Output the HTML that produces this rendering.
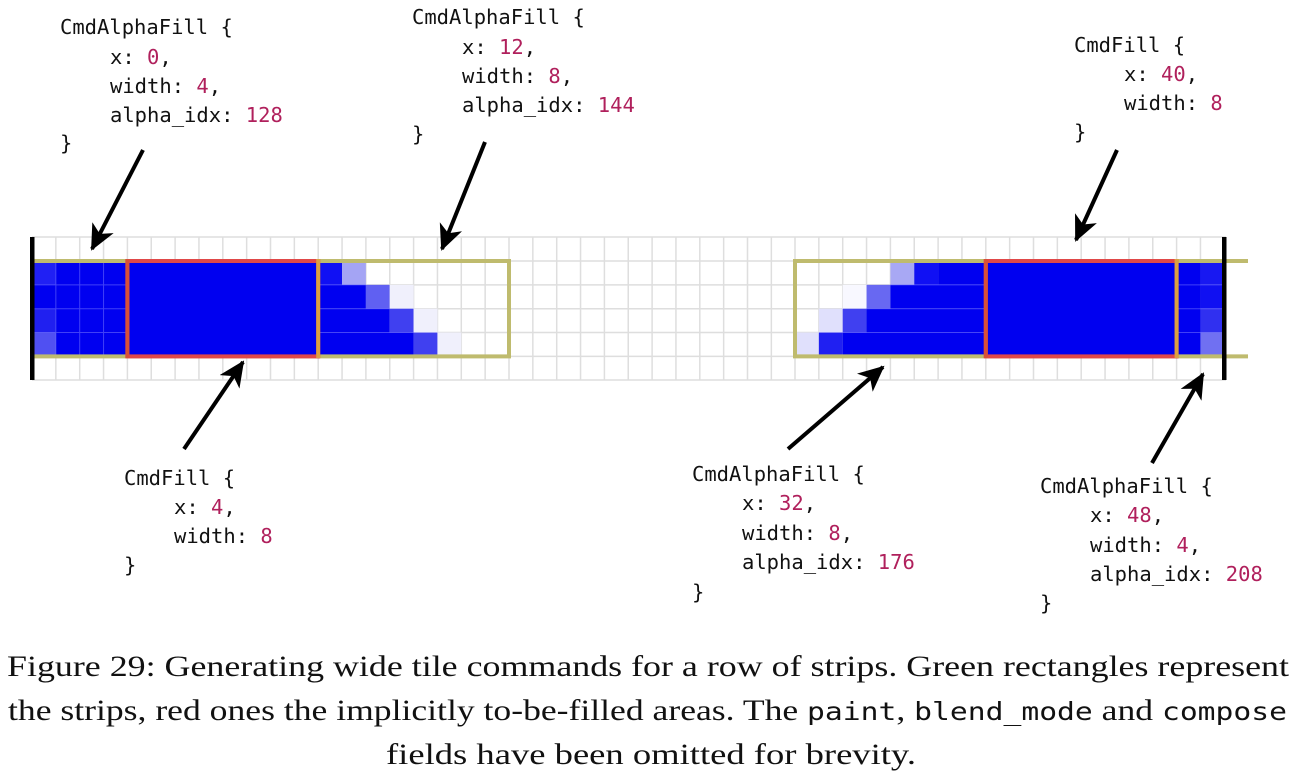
<!DOCTYPE html>
<html><head><meta charset="utf-8"><style>
html,body{margin:0;padding:0;background:#fff;}
svg{display:block;}
.m{font-family:"DejaVu Sans Mono","Liberation Mono",monospace;font-size:20.5px;fill:#111;}
.n{fill:#b0205c;}
.c{font-family:"Liberation Serif",serif;font-size:30px;fill:#111;}
.cm{font-family:"DejaVu Sans Mono","Liberation Mono",monospace;font-size:25px;}
</style></head><body>
<svg width="1294" height="780" viewBox="0 0 1294 780" xmlns="http://www.w3.org/2000/svg">
<defs>
<marker id="ah" markerUnits="userSpaceOnUse" markerWidth="26" markerHeight="24" viewBox="0 0 26 24" refX="24" refY="12" orient="auto">
<path d="M0,0 L26,12 L0,24 L7,12 z" fill="#000"/>
</marker>
</defs>
<!-- grid -->
<g stroke="#dedede" stroke-width="1.5">
<line x1="32" y1="237" x2="1226" y2="237"/><line x1="32" y1="261" x2="1226" y2="261"/>
<line x1="32" y1="284.85" x2="1226" y2="284.85"/><line x1="32" y1="308.7" x2="1226" y2="308.7"/>
<line x1="32" y1="332.55" x2="1226" y2="332.55"/><line x1="32" y1="356.4" x2="1226" y2="356.4"/>
<line x1="32" y1="380" x2="1226" y2="380"/>
</g>
<g stroke="#dedede" stroke-width="1.5">
<line x1="55.85" y1="237" x2="55.85" y2="380"/><line x1="79.7" y1="237" x2="79.7" y2="380"/><line x1="103.55" y1="237" x2="103.55" y2="380"/><line x1="127.4" y1="237" x2="127.4" y2="380"/>
<line x1="151.25" y1="237" x2="151.25" y2="380"/><line x1="175.1" y1="237" x2="175.1" y2="380"/><line x1="198.95" y1="237" x2="198.95" y2="380"/><line x1="222.8" y1="237" x2="222.8" y2="380"/>
<line x1="246.65" y1="237" x2="246.65" y2="380"/><line x1="270.5" y1="237" x2="270.5" y2="380"/><line x1="294.35" y1="237" x2="294.35" y2="380"/><line x1="318.2" y1="237" x2="318.2" y2="380"/>
<line x1="342.05" y1="237" x2="342.05" y2="380"/><line x1="365.9" y1="237" x2="365.9" y2="380"/><line x1="389.75" y1="237" x2="389.75" y2="380"/><line x1="413.6" y1="237" x2="413.6" y2="380"/>
<line x1="437.45" y1="237" x2="437.45" y2="380"/><line x1="461.3" y1="237" x2="461.3" y2="380"/><line x1="485.15" y1="237" x2="485.15" y2="380"/><line x1="509" y1="237" x2="509" y2="380"/>
<line x1="532.85" y1="237" x2="532.85" y2="380"/><line x1="556.7" y1="237" x2="556.7" y2="380"/><line x1="580.55" y1="237" x2="580.55" y2="380"/><line x1="604.4" y1="237" x2="604.4" y2="380"/>
<line x1="628.25" y1="237" x2="628.25" y2="380"/><line x1="652.1" y1="237" x2="652.1" y2="380"/><line x1="675.95" y1="237" x2="675.95" y2="380"/><line x1="699.8" y1="237" x2="699.8" y2="380"/>
<line x1="723.65" y1="237" x2="723.65" y2="380"/><line x1="747.5" y1="237" x2="747.5" y2="380"/><line x1="771.35" y1="237" x2="771.35" y2="380"/><line x1="795" y1="237" x2="795" y2="380"/>
<line x1="818.85" y1="237" x2="818.85" y2="380"/><line x1="842.7" y1="237" x2="842.7" y2="380"/><line x1="866.55" y1="237" x2="866.55" y2="380"/><line x1="890.4" y1="237" x2="890.4" y2="380"/>
<line x1="914.25" y1="237" x2="914.25" y2="380"/><line x1="938.1" y1="237" x2="938.1" y2="380"/><line x1="961.95" y1="237" x2="961.95" y2="380"/><line x1="985.8" y1="237" x2="985.8" y2="380"/>
<line x1="1009.65" y1="237" x2="1009.65" y2="380"/><line x1="1033.5" y1="237" x2="1033.5" y2="380"/><line x1="1057.35" y1="237" x2="1057.35" y2="380"/><line x1="1081.2" y1="237" x2="1081.2" y2="380"/>
<line x1="1105.05" y1="237" x2="1105.05" y2="380"/><line x1="1128.9" y1="237" x2="1128.9" y2="380"/><line x1="1152.75" y1="237" x2="1152.75" y2="380"/><line x1="1176.6" y1="237" x2="1176.6" y2="380"/>
<line x1="1200.45" y1="237" x2="1200.45" y2="380"/>
</g>
<!-- left strip fills -->
<g>
<rect x="32" y="261" width="95.4" height="95.4" fill="#0000f0"/>
<rect x="32" y="261" width="23.85" height="23.85" fill="#2020f4"/>
<rect x="32" y="308.7" width="23.85" height="23.85" fill="#2020f0"/>
<rect x="32" y="332.55" width="23.85" height="23.85" fill="#5050f2"/>
<rect x="318.2" y="261" width="23.85" height="23.85" fill="#1010f4"/>
<rect x="342.05" y="261" width="23.85" height="23.85" fill="#a4a4f4"/>
<rect x="318.2" y="284.85" width="47.7" height="23.85" fill="#0000f0"/>
<rect x="365.9" y="284.85" width="23.85" height="23.85" fill="#6060f2"/>
<rect x="389.75" y="284.85" width="23.85" height="23.85" fill="#f0f0fc"/>
<rect x="318.2" y="308.7" width="71.55" height="23.85" fill="#0000f0"/>
<rect x="389.75" y="308.7" width="23.85" height="23.85" fill="#4040f0"/>
<rect x="413.6" y="308.7" width="23.85" height="23.85" fill="#f0f0fc"/>
<rect x="318.2" y="332.55" width="95.4" height="23.85" fill="#0000f0"/>
<rect x="413.6" y="332.55" width="23.85" height="23.85" fill="#4040f0"/>
<rect x="437.45" y="332.55" width="23.85" height="23.85" fill="#f0f0fc"/>
</g>
<!-- right strip fills -->
<g>
<rect x="890.4" y="261" width="23.85" height="23.85" fill="#a8a8f4"/>
<rect x="914.25" y="261" width="23.85" height="23.85" fill="#1010f4"/>
<rect x="938.1" y="261" width="47.7" height="23.85" fill="#0000f0"/>
<rect x="842.7" y="284.85" width="23.85" height="23.85" fill="#f8f8ff"/>
<rect x="866.55" y="284.85" width="23.85" height="23.85" fill="#6868f2"/>
<rect x="890.4" y="284.85" width="95.4" height="23.85" fill="#0000f0"/>
<rect x="818.85" y="308.7" width="23.85" height="23.85" fill="#e0e0fc"/>
<rect x="842.7" y="308.7" width="23.85" height="23.85" fill="#4040f0"/>
<rect x="866.55" y="308.7" width="119.25" height="23.85" fill="#0000f0"/>
<rect x="795" y="332.55" width="23.85" height="23.85" fill="#e0e0fc"/>
<rect x="818.85" y="332.55" width="23.85" height="23.85" fill="#2020f2"/>
<rect x="842.7" y="332.55" width="143.1" height="23.85" fill="#0000f0"/>
<rect x="1176.6" y="261" width="23.85" height="95.4" fill="#0000f0"/>
<rect x="1200.45" y="261" width="23.85" height="23.85" fill="#1818f2"/>
<rect x="1200.45" y="284.85" width="23.85" height="23.85" fill="#1010f2"/>
<rect x="1200.45" y="308.7" width="23.85" height="23.85" fill="#3030f0"/>
<rect x="1200.45" y="332.55" width="23.85" height="23.85" fill="#7070f2"/>
</g>
<!-- faint grid over filled cells -->
<g stroke="#8080ff" stroke-width="1" opacity="0.5">
<line x1="32" y1="284.85" x2="127" y2="284.85"/><line x1="32" y1="308.7" x2="127" y2="308.7"/><line x1="32" y1="332.55" x2="127" y2="332.55"/>
<line x1="55.85" y1="261" x2="55.85" y2="356"/><line x1="79.7" y1="261" x2="79.7" y2="356"/><line x1="103.55" y1="261" x2="103.55" y2="356"/>
<line x1="318" y1="284.85" x2="366" y2="284.85"/><line x1="318" y1="308.7" x2="390" y2="308.7"/><line x1="318" y1="332.55" x2="414" y2="332.55"/>
<line x1="890" y1="284.85" x2="986" y2="284.85"/><line x1="866" y1="308.7" x2="986" y2="308.7"/><line x1="842" y1="332.55" x2="986" y2="332.55"/>
<line x1="1176" y1="284.85" x2="1224" y2="284.85"/><line x1="1176" y1="308.7" x2="1224" y2="308.7"/><line x1="1176" y1="332.55" x2="1224" y2="332.55"/>
</g>
<!-- strips (yellow-green) -->
<g fill="none" stroke="#bfbb6e" stroke-width="4">
<rect x="32" y="261" width="477" height="95.4"/>
<path d="M1248,261 H795 V356.4 H1248"/>
</g>
<!-- red filled areas -->
<rect x="127.4" y="261" width="190.8" height="95.4" fill="#0000f0" stroke="#e04848" stroke-width="4"/>
<rect x="985.8" y="261" width="190.8" height="95.4" fill="#0000f0" stroke="#e04848" stroke-width="4"/>
<g stroke="#dca040" stroke-width="4">
<line x1="318.2" y1="259" x2="318.2" y2="358"/>
<line x1="1176.6" y1="259" x2="1176.6" y2="358"/>
<line x1="985.8" y1="259" x2="985.8" y2="358" stroke="#d85038"/>
<line x1="127.4" y1="259" x2="127.4" y2="358" stroke="#d85038"/>
</g>
<!-- black bars -->
<rect x="30" y="237" width="4.5" height="143" fill="#000"/>
<rect x="1222" y="237" width="4.5" height="143" fill="#000"/>
<!-- arrows -->
<g stroke="#000" stroke-width="4" marker-end="url(#ah)">
<line x1="143" y1="150" x2="92" y2="249"/>
<line x1="485" y1="142" x2="442" y2="249"/>
<line x1="1117" y1="150" x2="1076" y2="240"/>
<line x1="184" y1="449" x2="243" y2="362"/>
<line x1="788" y1="449" x2="883" y2="367"/>
<line x1="1152" y1="463" x2="1203" y2="374"/>
</g>
<!-- labels -->
<g class="m">
<text x="60" y="34">CmdAlphaFill {</text>
<text x="110" y="64">x: <tspan class="n">0</tspan>,</text>
<text x="110" y="93">width: <tspan class="n">4</tspan>,</text>
<text x="110" y="122">alpha_idx: <tspan class="n">128</tspan></text>
<text x="60" y="150">}</text>

<text x="412" y="24">CmdAlphaFill {</text>
<text x="462" y="54">x: <tspan class="n">12</tspan>,</text>
<text x="462" y="83">width: <tspan class="n">8</tspan>,</text>
<text x="462" y="112">alpha_idx: <tspan class="n">144</tspan></text>
<text x="412" y="141">}</text>

<text x="1074" y="52">CmdFill {</text>
<text x="1124" y="81">x: <tspan class="n">40</tspan>,</text>
<text x="1124" y="110">width: <tspan class="n">8</tspan></text>
<text x="1074" y="139">}</text>

<text x="124" y="485">CmdFill {</text>
<text x="174" y="514">x: <tspan class="n">4</tspan>,</text>
<text x="174" y="543">width: <tspan class="n">8</tspan></text>
<text x="124" y="572">}</text>

<text x="692" y="481">CmdAlphaFill {</text>
<text x="742" y="510">x: <tspan class="n">32</tspan>,</text>
<text x="742" y="540">width: <tspan class="n">8</tspan>,</text>
<text x="742" y="569">alpha_idx: <tspan class="n">176</tspan></text>
<text x="692" y="599">}</text>

<text x="1040" y="493">CmdAlphaFill {</text>
<text x="1090" y="522">x: <tspan class="n">48</tspan>,</text>
<text x="1090" y="552">width: <tspan class="n">4</tspan>,</text>
<text x="1090" y="581">alpha_idx: <tspan class="n">208</tspan></text>
<text x="1040" y="610">}</text>
</g>
<!-- caption -->
<text class="c" x="7" y="676" textLength="1282" lengthAdjust="spacingAndGlyphs">Figure 29: Generating wide tile commands for a row of strips. Green rectangles represent</text>
<text class="c" x="8" y="720" textLength="1279" lengthAdjust="spacingAndGlyphs">the strips, red ones the implicitly to-be-filled areas. The <tspan class="cm">paint</tspan>, <tspan class="cm">blend_mode</tspan> and <tspan class="cm">compose</tspan></text>
<text class="c" x="386" y="764" textLength="530" lengthAdjust="spacingAndGlyphs">fields have been omitted for brevity.</text>
</svg>
</body></html>
